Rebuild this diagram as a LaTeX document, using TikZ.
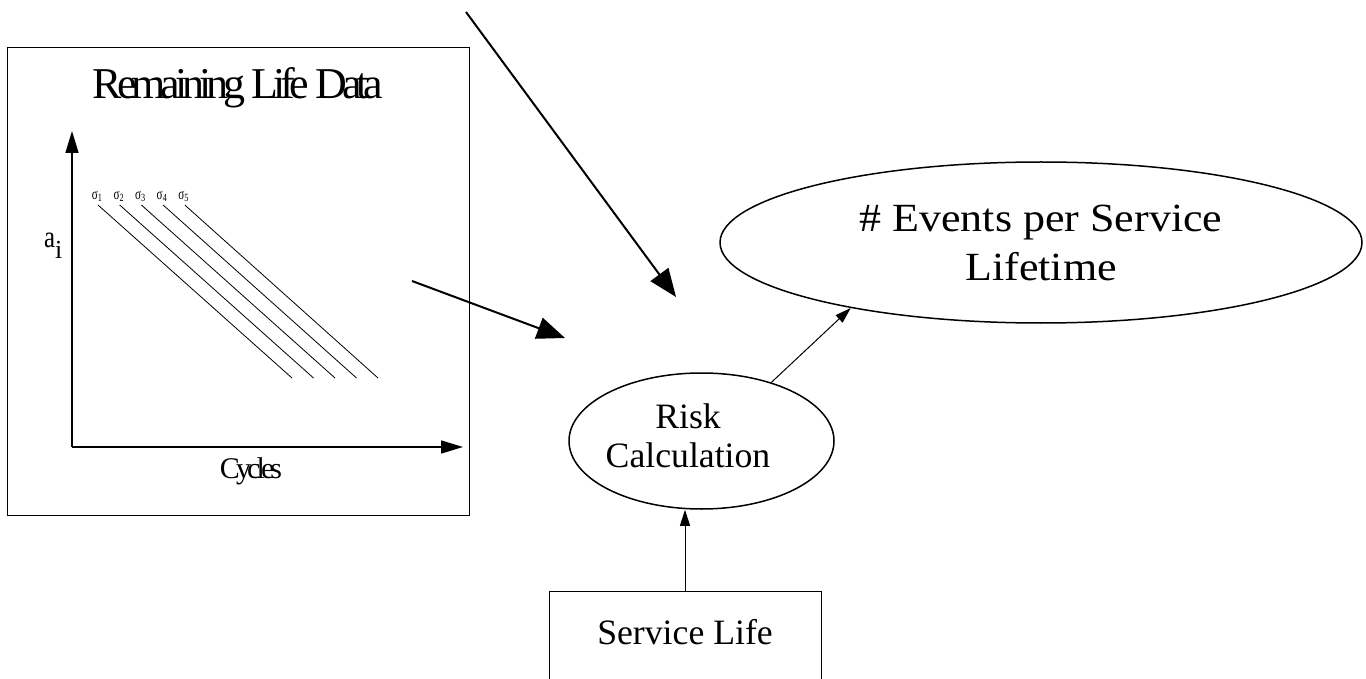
\documentclass[tikz,border=0pt]{standalone}
\usepackage{fontspec}
\setmainfont{Liberation Serif}
\usepackage{graphicx}
\usetikzlibrary{arrows.meta,shapes.geometric}
\newcommand{\tightfont}[2]{\fontsize{#1}{#1}\selectfont\addfontfeatures{LetterSpace=#2}}
\newcommand{\siglabel}[1]{\scalebox{0.7}[1]{\fontsize{16}{16}\selectfont σ}\raisebox{-2.5pt}{\scalebox{0.75}[1]{\fontsize{11}{11}\selectfont #1}}}
\begin{document}
\begin{tikzpicture}[x=1pt,y=-1pt,
  framebox/.style={draw=black,line width=1pt,rectangle,inner sep=0pt},
  axisline/.style={line width=1.6pt,-{Triangle[length=22pt,width=13pt]}},
  curveline/.style={line width=0.8pt},
  bigarrow/.style={line width=2pt,-{Triangle[length=28pt,width=22pt]}},
  thinarrow/.style={line width=1pt,-{Triangle[length=16pt,width=10pt]}},
  oval/.style={draw=black,line width=1.5pt,ellipse,inner sep=0pt},
  midfont/.style={font=\fontsize{35.7}{39}\selectfont},
  siglab/.style={inner sep=0pt,anchor=base}
]
\clip (0,0) rectangle (1366,679);
\fill[white] (0,0) rectangle (1366,679);

% Remaining life data panel
\node[framebox,minimum width=462pt,minimum height=467pt] (rldbox) at (238,281.5) {};
\node[anchor=base,inner sep=0pt] (title) at (238,99)
  {\tightfont{44}{-11.5}Remaining Life Data};
\coordinate (origin) at (72,447);
\coordinate (ytip) at (72,131);
\coordinate (xtip) at (463,447);
\draw[axisline] (origin) -- (ytip);
\draw[axisline] (origin) -- (xtip);
\node[anchor=base,inner sep=0pt] (cycles) at (251,478)
  {\tightfont{30}{-13}Cycles};
\node[anchor=base west,inner sep=0pt] (ai) at (44,248)
  {\scalebox{0.8}[1]{\fontsize{31}{31}\selectfont a}\raisebox{-10pt}{\fontsize{26}{26}\selectfont i}};
\foreach \k in {1,...,5} {
  \node[siglab] (s\k) at ({97+21.6*(\k-1)},199.5) {\siglabel{\k}};
  \draw[curveline] ({98+21.7*(\k-1)},205) -- ({292+21.5*(\k-1)},378);
}

% incoming arrows
\coordinate (a1s) at (412,281);
\coordinate (a1e) at (565,338);
\coordinate (a2s) at (466,12);
\coordinate (a2e) at (676,297);
\draw[bigarrow] (a1s) -- (a1e);
\draw[bigarrow] (a2s) -- (a2e);

% risk calculation
\node[oval,minimum width=265pt,minimum height=136pt] (risk) at (701.5,441) {};
\node[midfont,align=center,inner sep=0pt] (risktext) at (688,436) {Risk\\Calculation};

% events
\node[oval,minimum width=642pt,minimum height=161pt,align=center,
      font=\fontsize{40}{49}\selectfont] (events) at (1041,242.5)
  {\scalebox{1.1}[1]{\# Events per Service}\\\scalebox{1.1}[1]{Lifetime}};

% service life
\node[framebox,anchor=north,minimum width=272pt,text height=25pt,text depth=80pt,
      inner ysep=28pt,midfont] (service) at (685,591) {Service Life\hspace{16pt}};

\draw[thinarrow] (risk.40.9) -- (events.199.2);
\draw[thinarrow] (service.north) -- (service.north |- risk.south);
\end{tikzpicture}
\end{document}
